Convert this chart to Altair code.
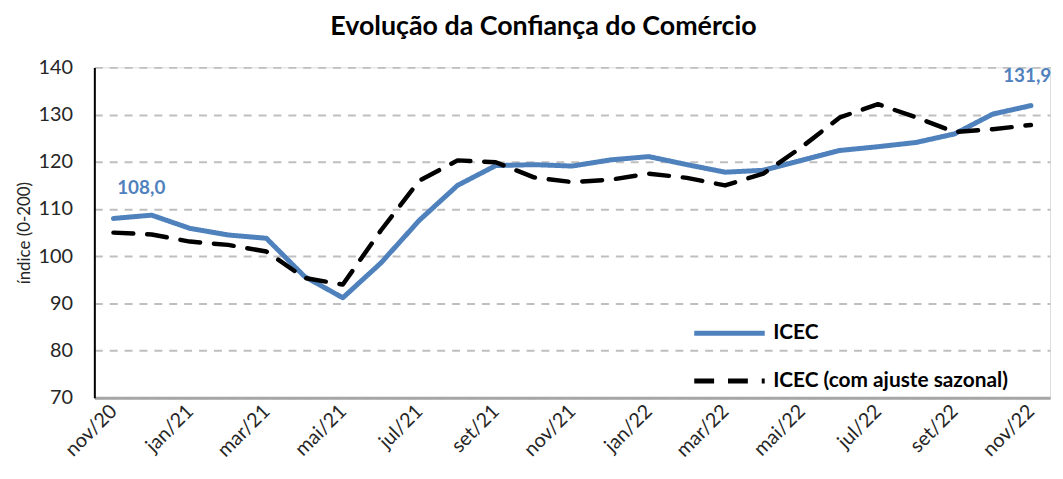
import altair as alt
import pandas as pd

months = ["nov/20", "dez/20", "jan/21", "fev/21", "mar/21", "abr/21", "mai/21", "jun/21",
          "jul/21", "ago/21", "set/21", "out/21", "nov/21", "dez/21", "jan/22", "fev/22",
          "mar/22", "abr/22", "mai/22", "jun/22", "jul/22", "ago/22", "set/22", "out/22", "nov/22"]
icec = [108.0, 108.7, 105.9, 104.5, 103.8, 95.7, 91.2, 98.6, 107.6, 115.0, 119.2, 119.4,
        119.1, 120.4, 121.1, 119.4, 117.8, 118.2, 120.3, 122.4, 123.2, 124.1, 125.9, 130.1, 131.9]
icec_sa = [105.0, 104.6, 103.1, 102.4, 101.0, 95.4, 94.0, 105.5, 116.0, 120.3, 119.9, 116.7,
           115.7, 116.2, 117.5, 116.6, 115.0, 117.5, 123.1, 129.4, 132.2, 129.4, 126.3, 126.9, 127.8]
series_names = ["ICEC", "ICEC (com ajuste sazonal)"]
y_ticks = [70, 80, 90, 100, 110, 120, 130, 140]

rows = []
for m, a, b in zip(months, icec, icec_sa):
    rows.append({"mes": m, "serie": series_names[0], "valor": a})
    rows.append({"mes": m, "serie": series_names[1], "valor": b})
df = pd.DataFrame(rows)
df["rotulo"] = df["valor"].map(lambda v: f"{v:.1f}".replace(".", ","))

FONT = "Lato"
BLUE = "#4F81BD"

x_enc = alt.X(
    "mes:O", sort=months, title=None,
    scale=alt.Scale(type="point", padding=0.5),
    axis=alt.Axis(values=months[::2], labelAngle=-45, labelAlign="right",
                  labelBaseline="middle", labelPadding=10, labelFontSize=20,
                  labelFont=FONT, labelColor="#262626", ticks=False,
                  domainColor="#A6A6A6", domainWidth=3, grid=False),
)
y_enc = alt.Y(
    "valor:Q", title="índice (0-200)",
    scale=alt.Scale(domain=[70, 140], nice=False, zero=False),
    axis=alt.Axis(values=y_ticks, labelFontSize=20, labelFont=FONT, labelColor="#262626",
                  labelPadding=22, ticks=False, domainColor="#000000", domainWidth=2,
                  titleFont=FONT, titleFontSize=17, titleFontWeight="normal",
                  titleColor="#262626", titlePadding=5,
                  grid=True, gridColor="#BFBFBF", gridDash=[8, 7], gridWidth=2),
)
legend_cfg = dict(title=None, orient="none", legendX=602, legendY=230,
                  symbolType="stroke", symbolStrokeWidth=5, symbolSize=5041,
                  labelFont=FONT, labelFontSize=21, labelFontWeight="bold",
                  labelColor="#000000", labelOffset=6, rowPadding=-6, labelLimit=400)
color_enc = alt.Color(
    "serie:N", sort=series_names,
    scale=alt.Scale(domain=series_names, range=[BLUE, "#000000"]),
    legend=alt.Legend(**legend_cfg),
)
dash_enc = alt.StrokeDash(
    "serie:N", sort=series_names,
    scale=alt.Scale(domain=series_names, range=[[1, 0], [20, 14]]),
    legend=alt.Legend(**legend_cfg),
)

base = alt.Chart(df)
line_blue = base.transform_filter(alt.datum.serie == series_names[0]).mark_line(
    strokeWidth=5, strokeCap="round", strokeJoin="round"
).encode(x=x_enc, y=y_enc, color=color_enc, strokeDash=dash_enc)
line_black = base.transform_filter(alt.datum.serie == series_names[1]).mark_line(
    strokeWidth=4.5, strokeCap="round", strokeJoin="round"
).encode(x=x_enc, y=y_enc, color=color_enc, strokeDash=dash_enc)

lbl_first = base.transform_filter(
    (alt.datum.serie == series_names[0]) & (alt.datum.mes == months[0])
).mark_text(font=FONT, fontSize=19, fontWeight="bold", color=BLUE, dx=28, dy=-31).encode(
    x=alt.X("mes:O", sort=months), y="valor:Q", text="rotulo:N")
lbl_last = base.transform_filter(
    (alt.datum.serie == series_names[0]) & (alt.datum.mes == months[-1])
).mark_text(font=FONT, fontSize=19, fontWeight="bold", color=BLUE, align="left",
            dx=-28, dy=-30).encode(
    x=alt.X("mes:O", sort=months), y="valor:Q", text="rotulo:N")

chart = alt.layer(line_blue, line_black, lbl_first, lbl_last).properties(
    width=963, height=333,
    title=alt.Title("Evolução da Confiança do Comércio", font=FONT, fontSize=27,
                    fontWeight="bold", color="#000000", anchor="middle", dx=-29, offset=17),
    autosize=alt.AutoSizeParams(type="none"),
    padding={"left": 87, "top": 58, "right": 5, "bottom": 90},
).configure_view(stroke=None).configure(background="white")

chart.save("out.html", embed_options={"renderer": "svg", "actions": False})
